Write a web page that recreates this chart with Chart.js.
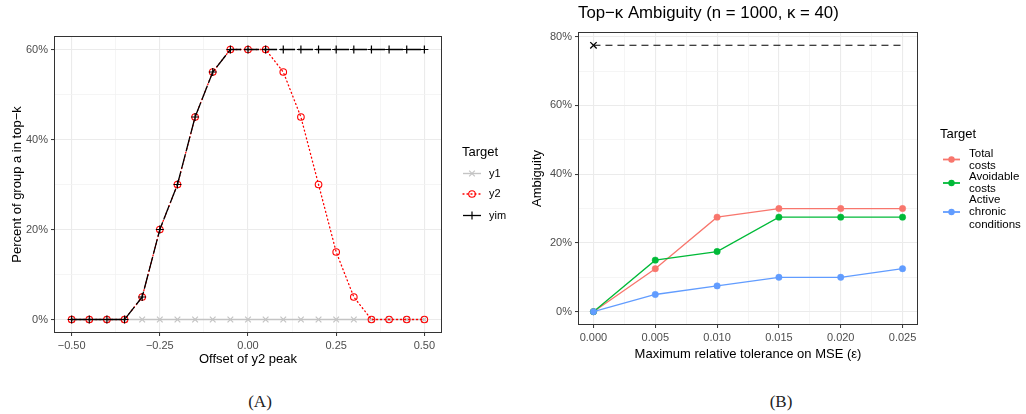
<!DOCTYPE html>
<html>
<head>
<meta charset="utf-8">
<script src="https://cdn.jsdelivr.net/npm/chart.js@4.4.1/dist/chart.umd.min.js"></script>
<style>
  body { margin: 0; background: #fff; width: 1026px; height: 414px; position: relative; overflow: hidden; }
  canvas { position: absolute; top: 0; }
  #chartA { left: 0; }
  #chartB { left: 510px; }
  .caption { position: absolute; top: 391px; width: 100px; text-align: center; font-weight: normal;
             font: 17px "Liberation Serif", "DejaVu Serif", serif; line-height: 22px; color: #222; }
</style>
</head>
<body>
<canvas id="chartA" width="510" height="380"></canvas>
<canvas id="chartB" width="516" height="380"></canvas>
<div class="caption" style="left:210px">(A)</div>
<div class="caption" style="left:731px">(B)</div>
<script>
// panel A: share of group a in top-k vs offset of the y2 peak
const offsetsA = [-0.50, -0.45, -0.40, -0.35, -0.30, -0.25, -0.20, -0.15, -0.10, -0.05, 0.00,
                  0.05, 0.10, 0.15, 0.20, 0.25, 0.30, 0.35, 0.40, 0.45, 0.50];
const y1Share  = [0, 0, 0, 0, 0, 0, 0, 0, 0, 0, 0, 0, 0, 0, 0, 0, 0, 0, 0, 0, 0];
const y2Share  = [0, 0, 0, 0, 0.05, 0.20, 0.30, 0.45, 0.55, 0.60, 0.60,
                  0.60, 0.55, 0.45, 0.30, 0.15, 0.05, 0, 0, 0, 0];
const yimShare = [0, 0, 0, 0, 0.05, 0.20, 0.30, 0.45, 0.55, 0.60, 0.60,
                  0.60, 0.60, 0.60, 0.60, 0.60, 0.60, 0.60, 0.60, 0.60, 0.60];
const offsetTicks      = [-0.50, -0.25, 0.00, 0.25, 0.50];
const offsetMinorTicks = [-0.375, -0.125, 0.125, 0.375];
const shareTicks       = [0, 0.2, 0.4, 0.6];
const shareMinorTicks  = [0.1, 0.3, 0.5];

// panel B: top-k ambiguity vs tolerance
const tolerance         = [0, 0.005, 0.010, 0.015, 0.020, 0.025];
const totalCosts        = [0, 0.125, 0.275, 0.300, 0.300, 0.300];
const avoidableCosts    = [0, 0.150, 0.175, 0.275, 0.275, 0.275];
const chronicConditions = [0, 0.050, 0.075, 0.100, 0.100, 0.125];
const baselineAmbiguity = 0.775;
const toleranceTicks      = [0, 0.005, 0.010, 0.015, 0.020, 0.025];
const toleranceMinorTicks = [0.0025, 0.0075, 0.0125, 0.0175, 0.0225];
const ambiguityTicks      = [0, 0.2, 0.4, 0.6, 0.8];
const ambiguityMinorTicks = [0.1, 0.3, 0.5, 0.7];

Chart.defaults.font.family = "'Liberation Sans', Arial, sans-serif";
Chart.defaults.animation = false;

const pts = (xs, ys) => xs.map((x, i) => ({ x: x, y: ys[i] }));
const signed = (v, d) => (v < -1e-9 ? '\u2212' : '') + Math.abs(v).toFixed(d);
const pct = v => Math.round(v * 100) + '%';

function ggAxis(min, max, majors, minors, fmt, fit) {
    return {
        type: 'linear', min: min, max: max,
        afterBuildTicks: s => {
            s.ticks = majors.map(v => ({ value: v, minor: false }))
                .concat(minors.map(v => ({ value: v, minor: true })))
                .sort((a, b) => a.value - b.value);
        },
        afterFit: fit,
        ticks: {
            autoSkip: false, maxRotation: 0, minRotation: 0, padding: 3,
            color: '#4D4D4D', font: { size: 11 },
            callback: (v, i, ticks) => ticks[i].minor ? '' : fmt(v)
        },
        grid: {
            color: c => c.tick && c.tick.minor ? '#F3F3F3' : '#EBEBEB',
            lineWidth: c => c.tick && c.tick.minor ? 0.8 : 1.1,
            tickColor: c => c.tick && c.tick.minor ? 'rgba(0,0,0,0)' : '#333333',
            tickLength: 3, tickWidth: 1, drawTicks: true
        },
        border: { display: false }
    };
}

function label(ctx, str, x, y, size, color, align, rotate) {
    ctx.save();
    ctx.font = size + "px 'Liberation Sans', Arial, sans-serif";
    ctx.fillStyle = color;
    ctx.textAlign = align || 'center';
    ctx.textBaseline = 'middle';
    ctx.translate(x, y);
    if (rotate) ctx.rotate(-Math.PI / 2);
    ctx.fillText(str, 0, 0);
    ctx.restore();
}

function marker(ctx, style, x, y, r, color, lw) {
    ctx.save();
    ctx.strokeStyle = color; ctx.fillStyle = color; ctx.lineWidth = lw;
    ctx.beginPath();
    if (style === 'circle' || style === 'dot') {
        ctx.arc(x, y, r, 0, Math.PI * 2);
        if (style === 'dot') ctx.fill(); else ctx.stroke();
    } else if (style === 'cross') {
        ctx.moveTo(x - r, y); ctx.lineTo(x + r, y);
        ctx.moveTo(x, y - r); ctx.lineTo(x, y + r); ctx.stroke();
    } else {
        const d = r * 0.7071;
        ctx.moveTo(x - d, y - d); ctx.lineTo(x + d, y + d);
        ctx.moveTo(x - d, y + d); ctx.lineTo(x + d, y - d); ctx.stroke();
    }
    ctx.restore();
}

function keyLine(ctx, x0, x1, y, color, dash, lw) {
    ctx.save();
    ctx.strokeStyle = color; ctx.lineWidth = lw; ctx.setLineDash(dash); ctx.lineCap = dash.length ? 'round' : 'butt';
    ctx.beginPath(); ctx.moveTo(x0, y); ctx.lineTo(x1, y); ctx.stroke();
    ctx.restore();
}

function border(ctx, a) {
    ctx.save();
    ctx.strokeStyle = '#333333'; ctx.lineWidth = 1;
    ctx.strokeRect(Math.round(a.left) + 0.5, Math.round(a.top) + 0.5,
                   Math.round(a.right - a.left) - 1, Math.round(a.bottom - a.top) - 1);
    ctx.restore();
}

const decorA = {
    id: 'decorA',
    afterDraw(chart) {
        const ctx = chart.ctx, a = chart.chartArea;
        border(ctx, a);
        label(ctx, 'Offset of y2 peak', (a.left + a.right) / 2, 359, 13, '#000');
        label(ctx, 'Percent of group a in top\u2212k', 17, (a.top + a.bottom) / 2, 13, '#000', 'center', true);
        label(ctx, 'Target', 462, 152, 13, '#000', 'left');
        keyLine(ctx, 463, 481, 173.5, '#C4C4C4', [], 1.4);
        marker(ctx, 'x', 472, 173.5, 4, '#C4C4C4', 1.2);
        keyLine(ctx, 463, 481, 194, '#FF0000', [1, 3], 1.3);
        marker(ctx, 'circle', 472, 194, 3.3, '#FF0000', 1.1);
        keyLine(ctx, 463, 481, 215.5, '#000000', [], 1.3);
        marker(ctx, 'cross', 472, 215.5, 4, '#000000', 1.2);
        label(ctx, 'y1', 489, 173.5, 11, '#000', 'left');
        label(ctx, 'y2', 489, 194, 11, '#000', 'left');
        label(ctx, 'yim', 489, 215.5, 11, '#000', 'left');
    }
};

new Chart(document.getElementById('chartA'), {
    type: 'line',
    data: {
        datasets: [
            { label: 'yim', data: pts(offsetsA, yimShare), order: 1,
              borderColor: '#000000', borderWidth: 1.3, borderDash: [15, 3],
              pointStyle: 'cross', pointRadius: 4, pointBorderColor: '#000000', pointBorderWidth: 1.2 },
            { label: 'y2', data: pts(offsetsA, y2Share), order: 2,
              borderColor: '#FF0000', borderWidth: 1.3, borderDash: [1, 3], borderCapStyle: 'round',
              pointStyle: 'circle', pointRadius: 3.3, pointBackgroundColor: 'rgba(0,0,0,0)',
              pointBorderColor: '#FF0000', pointBorderWidth: 1.1 },
            { label: 'y1', data: pts(offsetsA, y1Share), order: 3,
              borderColor: '#C4C4C4', borderWidth: 1.4,
              pointStyle: 'crossRot', pointRadius: 4, pointBorderColor: '#C4C4C4', pointBorderWidth: 1.2 }
        ]
    },
    options: {
        responsive: false,
        events: [],
        layout: { padding: { top: 36, right: 68, left: 0, bottom: 0 } },
        plugins: { legend: { display: false }, tooltip: { enabled: false } },
        scales: {
            x: ggAxis(-0.55, 0.55, offsetTicks, offsetMinorTicks, v => signed(v, 2), s => { s.height = 47; }),
            y: ggAxis(-0.03, 0.63, shareTicks, shareMinorTicks, pct, s => { s.width = 54; })
        }
    },
    plugins: [decorA]
});

const decorB = {
    id: 'decorB',
    afterDraw(chart) {
        const ctx = chart.ctx, a = chart.chartArea;
        border(ctx, a);
        label(ctx, 'Top\u2212\u03BA Ambiguity (n = 1000, \u03BA = 40)', a.left, 13, 16.8, '#000', 'left');
        label(ctx, 'Maximum relative tolerance on MSE (\u03B5)', (a.left + a.right) / 2, 354, 13, '#000');
        label(ctx, 'Ambiguity', 27, (a.top + a.bottom) / 2, 13, '#000', 'center', true);
        label(ctx, 'Target', 430, 134, 13, '#000', 'left');
        const keys = [
            { color: '#F8766D', y: 159.5, lines: ['Total', 'costs'], ly: 154 },
            { color: '#00BA38', y: 183, lines: ['Avoidable', 'costs'], ly: 177 },
            { color: '#619CFF', y: 212, lines: ['Active', 'chronic', 'conditions'], ly: 200 }
        ];
        keys.forEach(k => {
            keyLine(ctx, 433, 450, k.y, k.color, [], 1.8);
            marker(ctx, 'dot', 441.5, k.y, 3.2, k.color, 1);
            k.lines.forEach((t, i) => label(ctx, t, 459, k.ly + i * 12.2, 11.5, '#000', 'left'));
        });
    }
};

const ggLine = (name, ys, color, order) => ({
    label: name, data: pts(tolerance, ys), order: order,
    borderColor: color, borderWidth: 1.3, backgroundColor: color,
    pointStyle: 'circle', pointRadius: 3.2, pointBackgroundColor: color,
    pointBorderColor: color, pointBorderWidth: 0.5
});

new Chart(document.getElementById('chartB'), {
    type: 'line',
    data: {
        datasets: [
            ggLine('Active chronic conditions', chronicConditions, '#619CFF', 1),
            ggLine('Avoidable costs', avoidableCosts, '#00BA38', 2),
            ggLine('Total costs', totalCosts, '#F8766D', 3),
            { label: 'unconstrained',
              data: pts([tolerance[0], tolerance[tolerance.length - 1]], [baselineAmbiguity, baselineAmbiguity]),
              order: 4, borderColor: '#000000', borderWidth: 1.1, borderDash: [7, 5],
              pointStyle: 'crossRot', pointBorderColor: '#000000', pointBorderWidth: 1.3,
              pointRadius: c => c.dataIndex === 0 ? 4.5 : 0 }
        ]
    },
    options: {
        responsive: false,
        events: [],
        layout: { padding: { top: 32, right: 108, left: 0, bottom: 0 } },
        plugins: { legend: { display: false }, tooltip: { enabled: false } },
        scales: {
            x: ggAxis(-0.00125, 0.02625, toleranceTicks, toleranceMinorTicks, v => signed(v, 3), s => { s.height = 55; }),
            y: ggAxis(-0.03875, 0.81375, ambiguityTicks, ambiguityMinorTicks, pct, s => { s.width = 68; })
        }
    },
    plugins: [decorB]
});
</script>
</body>
</html>
